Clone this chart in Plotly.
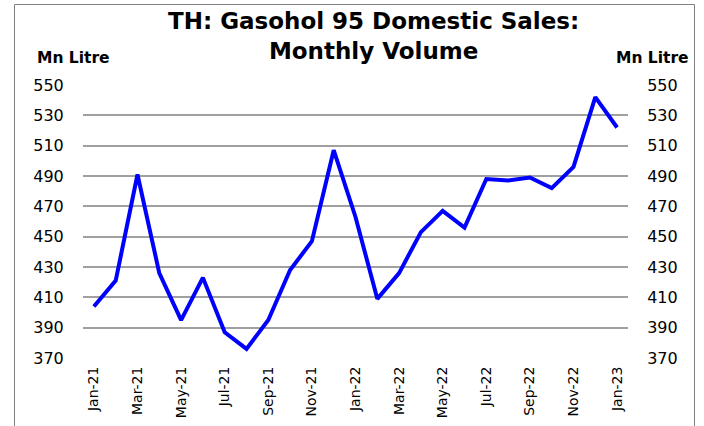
import plotly.graph_objects as go

# Monthly Gasohol 95 domestic sales, million litres
months = ["Jan-21", "Feb-21", "Mar-21", "Apr-21", "May-21", "Jun-21", "Jul-21", "Aug-21",
          "Sep-21", "Oct-21", "Nov-21", "Dec-21", "Jan-22", "Feb-22", "Mar-22", "Apr-22",
          "May-22", "Jun-22", "Jul-22", "Aug-22", "Sep-22", "Oct-22", "Nov-22", "Dec-22",
          "Jan-23"]
volume = [404, 421, 491, 426, 395, 423, 387, 376, 395, 428, 447, 507, 463, 409,
          426, 453, 467, 456, 488, 487, 489, 482, 496, 542, 522]
y_ticks = [370, 390, 410, 430, 450, 470, 490, 510, 530, 550]
x_ticks = months[::2]

W, H = 704, 426
ML, MR, MT, MB = 83, 76, 85, 68
PW, PH = W - ML - MR, H - MT - MB


def px_x(x):
    return (x - ML) / PW


def px_y(y):
    return (H - MB - y) / PH


font = "DejaVu Sans, Arial, sans-serif"

fig = go.Figure()
fig.add_trace(go.Scatter(x=months, y=volume, mode="lines",
                         line=dict(color="#0000FF", width=4), showlegend=False))
# invisible copy so the right-hand axis is drawn
fig.add_trace(go.Scatter(x=months, y=volume, mode="lines", yaxis="y2",
                         line=dict(color="rgba(0,0,0,0)", width=0), showlegend=False,
                         hoverinfo="skip"))

axis_y = dict(range=[370, 550], tickvals=y_ticks, showline=False, zeroline=False,
              ticks="outside", ticklen=15, tickcolor="rgba(0,0,0,0)", automargin=False,
              tickfont=dict(family=font, size=16, color="black"))

fig.update_layout(
    width=W, height=H,
    margin=dict(l=ML, r=MR, t=MT, b=MB),
    paper_bgcolor="white", plot_bgcolor="white",
    xaxis=dict(type="category", categoryorder="array", categoryarray=months,
               range=[-0.5, len(months) - 0.5], tickvals=x_ticks, ticktext=x_ticks,
               tickangle=-90, ticks="outside", ticklen=2, tickcolor="rgba(0,0,0,0)",
               showgrid=False, showline=False, zeroline=False, automargin=False,
               tickfont=dict(family=font, size=14, color="black")),
    yaxis=dict(**axis_y, side="left", showgrid=True, gridcolor="#a0a0a0", gridwidth=1.5),
    yaxis2=dict(**axis_y, side="right", overlaying="y", showgrid=False),
)

fig.add_annotation(text="<b>TH: Gasohol 95 Domestic Sales:<br>Monthly Volume</b>",
                   xref="paper", yref="paper", x=px_x(373), y=px_y(6),
                   xanchor="center", yanchor="top", showarrow=False,
                   font=dict(family=font, size=23, color="black"))
fig.add_annotation(text="<b>Mn Litre</b>", xref="paper", yref="paper",
                   x=px_x(35), y=px_y(58), xanchor="left", yanchor="middle",
                   showarrow=False, font=dict(family=font, size=15.5, color="black"))
fig.add_annotation(text="<b>Mn Litre</b>", xref="paper", yref="paper",
                   x=px_x(691), y=px_y(58), xanchor="right", yanchor="middle",
                   showarrow=False, font=dict(family=font, size=15.5, color="black"))

# chart frame
fig.add_shape(type="rect", xref="paper", yref="paper",
              x0=px_x(14.5), x1=px_x(694.5), y0=px_y(432), y1=px_y(4.5),
              line=dict(color="#808080", width=1), fillcolor="rgba(0,0,0,0)", layer="below")

fig.write_html("out.html")
